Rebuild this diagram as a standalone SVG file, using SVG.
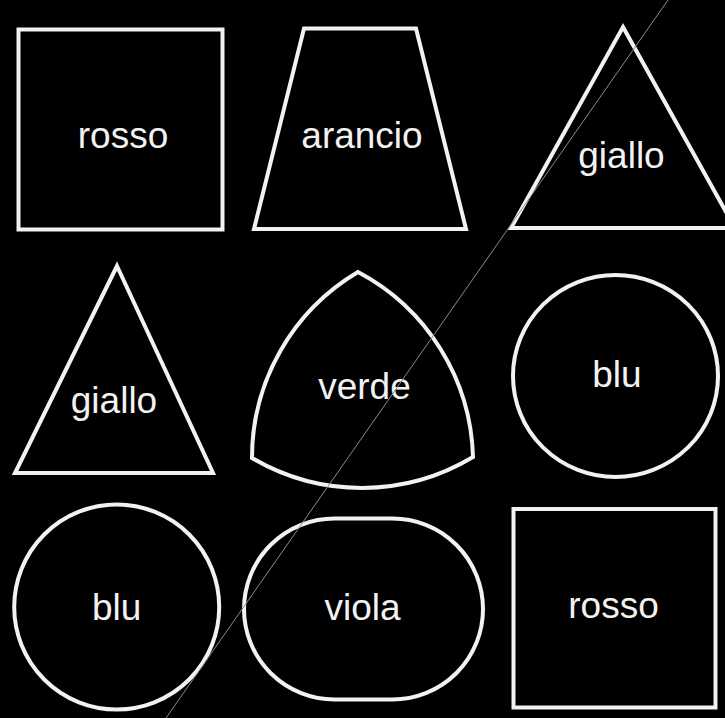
<svg xmlns="http://www.w3.org/2000/svg" width="725" height="718" viewBox="0 0 725 718">
<style>
.shape{fill:#000;stroke:#f2f2f2;stroke-width:4;stroke-linejoin:miter}
.lbl{fill:#f2f2f2;font-family:"Liberation Sans",Arial,sans-serif;font-size:37px;text-anchor:middle}
.diag{stroke:#8a8a8a;stroke-width:1;fill:none}
</style>
<rect x="0" y="0" width="725" height="718" fill="#000"/>
<g id="n1"><rect class="shape" x="18.5" y="29.5" width="204" height="200"/><text class="lbl" x="123" y="148">rosso</text></g>
<g id="n2"><polygon class="shape" points="304,28.5 416,28.5 466,229 254,229"/><text class="lbl" x="362" y="148">arancio</text></g>
<g id="n3"><polygon class="shape" points="623,27 735,228 511,228"/><text class="lbl" x="621.5" y="168">giallo</text></g>
<g id="n4"><polygon class="shape" points="117,266 213,473 15,473"/><text class="lbl" x="114" y="413">giallo</text></g>
<g id="n5"><path class="shape" d="M358,272 A216,216 0 0 1 473,457 A216,216 0 0 1 252,458 A216,216 0 0 1 358,272 Z"/><text class="lbl" x="364.5" y="399">verde</text></g>
<g id="n6"><ellipse class="shape" cx="615.5" cy="376" rx="102.5" ry="101"/><text class="lbl" x="617" y="387">blu</text></g>
<g id="n7"><circle class="shape" cx="116.7" cy="607" r="102.5"/><text class="lbl" x="116.7" y="620">blu</text></g>
<g id="n8"><rect class="shape" x="244" y="518.5" width="239" height="181" rx="90.5" ry="90.5"/><text class="lbl" x="362.5" y="620">viola</text></g>
<g id="n9"><rect class="shape" x="513.5" y="509" width="202" height="198.5"/><text class="lbl" x="613.5" y="618">rosso</text></g>
<g id="connectors"><line class="diag" x1="668" y1="0" x2="166" y2="718"/></g>
</svg>
